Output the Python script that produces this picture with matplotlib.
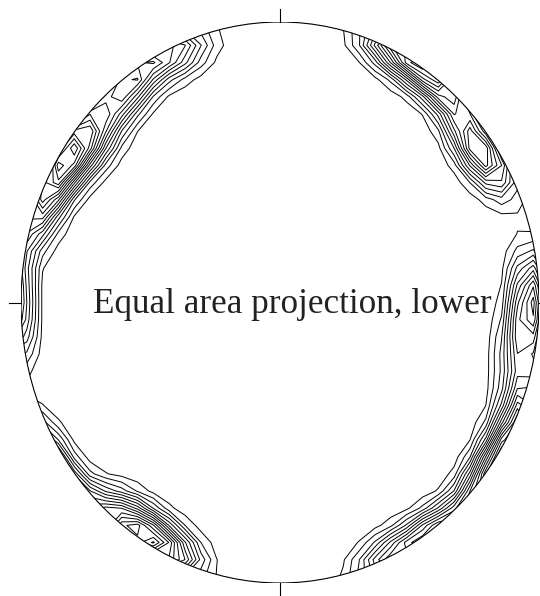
import numpy as np
import matplotlib
matplotlib.use("Agg")
import matplotlib.pyplot as plt
from matplotlib.patches import Circle

# pole orientations: trend / plunge in degrees
nw_trend = [288, 296, 300, 304, 308, 312, 320, 324, 336]
nw_plunge = [3, 5, 4, 6, 11, 3, 8, 2, 5]
ne_trend = [25, 32, 38, 45, 52, 56, 60]
ne_plunge = [1, 2, 2, 3, 7, 8, 4]
e_trend = [85, 90, 94, 100, 110, 120, 128]
e_plunge = [3, 4, 4, 8, 3, 2, 1]
sw_trend = [206, 212, 218]
sw_plunge = [4, 6, 5]
se_trend = [145, 155]
se_plunge = [1, 2]

title = "Equal area projection, lower"

trend = np.radians(nw_trend + ne_trend + e_trend + sw_trend + se_trend)
plunge = np.radians(nw_plunge + ne_plunge + e_plunge + sw_plunge + se_plunge)
poles = np.column_stack([np.cos(plunge) * np.sin(trend),
                         np.cos(plunge) * np.cos(trend),
                         -np.sin(plunge)])

# coarse grid in the projection plane -> directions on the sphere
gx, gy = np.meshgrid(np.linspace(-1.1, 1.1, 37), np.linspace(-1.1, 1.1, 37))
r = np.clip(np.hypot(gx, gy), 0, np.sqrt(2) - 1e-6)
theta = 2 * np.arcsin(r / np.sqrt(2))
az = np.arctan2(gx, gy)
g = np.stack([np.sin(theta) * np.sin(az),
              np.sin(theta) * np.cos(az),
              -np.cos(theta)], axis=-1)
cosang = np.abs(g @ poles.T)
dens = np.exp(110 * (cosang - 1)).sum(axis=-1)

fig = plt.figure(figsize=(5.4, 5.96), dpi=100)
ax = fig.add_axes([21 / 540, 13 / 596, 518 / 540, 561 / 596])
ax.set_xlim(-1, 1)
ax.set_ylim(-1, 1)
ax.axis('off')

levels = dens.max() * np.arange(1, 17) / 17
cs = ax.contour(gx, gy, dens, levels=levels, colors='black', linewidths=0.7)
prim = Circle((0, 0), 1, fill=False, ec='black', lw=0.8)
ax.add_patch(prim)
cs.set_clip_path(prim)

t = 0.046
for x0, y0, x1, y1 in [(0, 1, 0, 1 + t), (0, -1, 0, -1 - t),
                       (-1, 0, -1 - t, 0), (1, 0, 1 + t, 0)]:
    ax.plot([x0, x1], [y0, y1], color='black', lw=0.8, clip_on=False)

ax.text(-0.722, -0.0374, title, family='Liberation Serif', fontsize=25.3,
        color='#222222', ha='left', va='baseline')

fig.savefig("out.png", dpi=100)
